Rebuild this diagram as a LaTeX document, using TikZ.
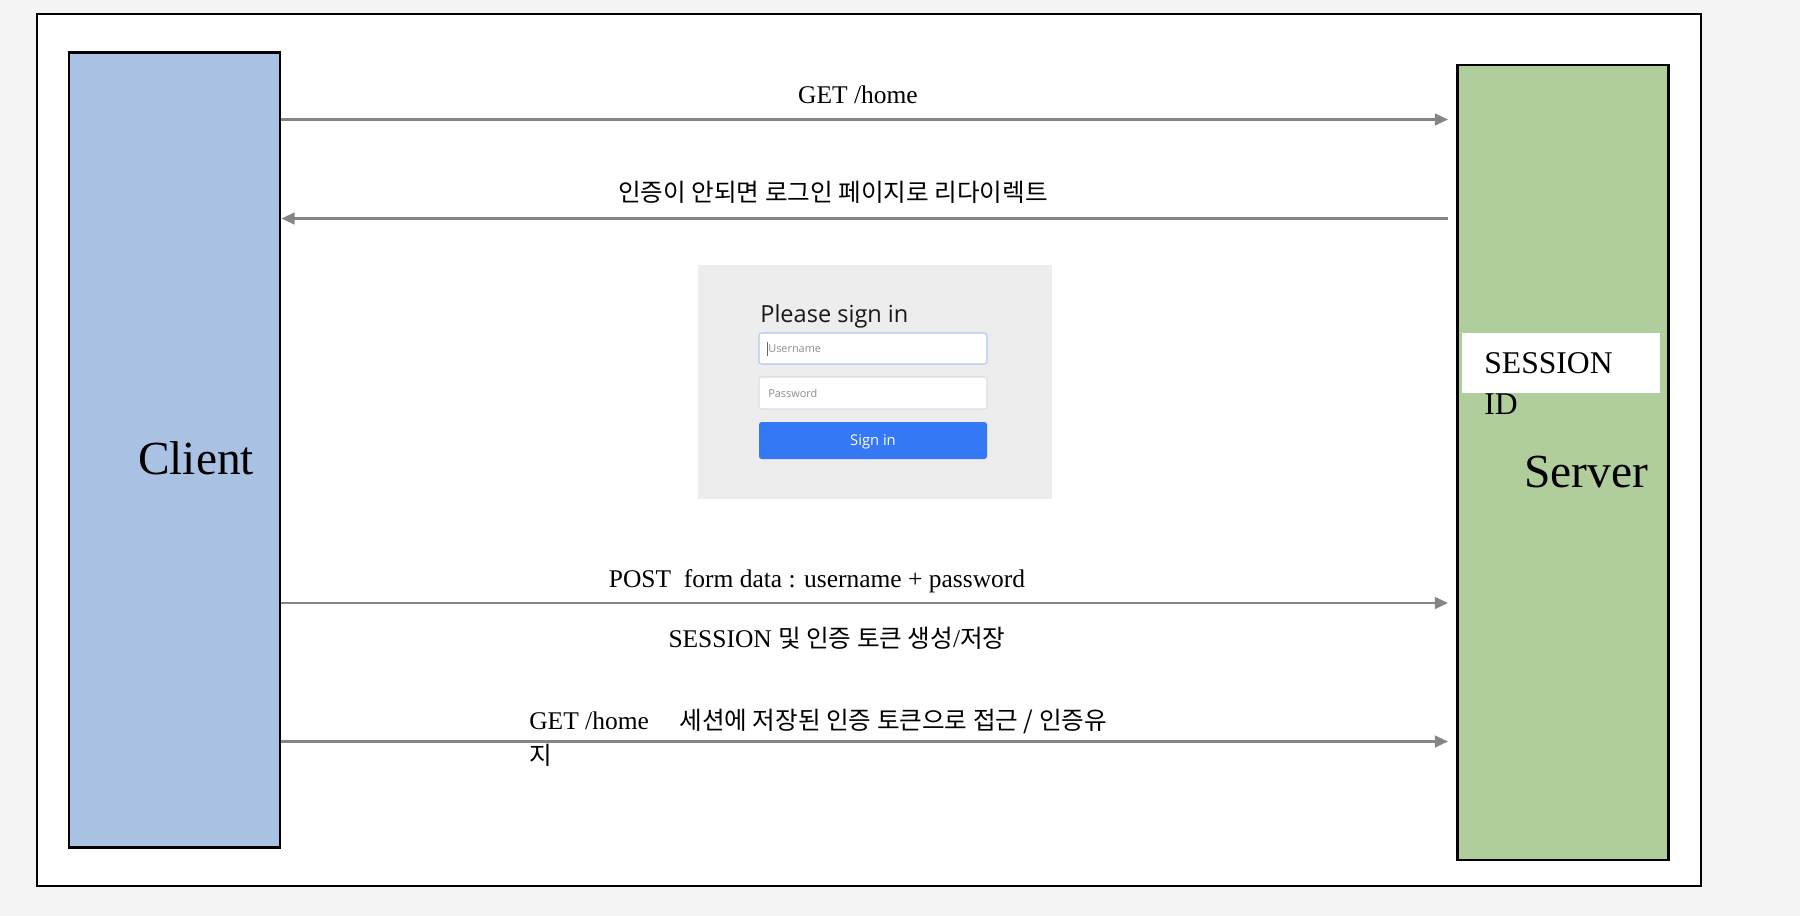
\documentclass[tikz,border=0pt]{standalone}
\usepackage{fontspec}
\setmainfont{Liberation Serif}
\newfontfamily\kofont{Noto Sans CJK KR}
\newfontfamily\uifont{Open Sans}
\usetikzlibrary{positioning,arrows.meta}
\definecolor{pagegray}{HTML}{F4F4F4}
\definecolor{clientblue}{HTML}{A9C2E3}
\definecolor{servergreen}{HTML}{B0CE9B}
\definecolor{msggray}{HTML}{858585}
\definecolor{formgray}{HTML}{EDEDED}
\definecolor{btnblue}{HTML}{3578F6}
\definecolor{fieldblue}{HTML}{A9C8F2}
\definecolor{fieldgray}{HTML}{DCDCDC}
\newcommand{\ko}[1]{{\kofont\fontsize{14}{16}\selectfont #1}}
\tikzset{
x=0.02cm, y=-0.02cm, % one unit = one pixel of the reference
party/.style={draw=black, line width=1.6pt, minimum width=4.22cm, minimum height=15.9cm, inner sep=0pt},
msg/.style={draw=msggray, line width=1.6pt, -{Triangle[length=7.5pt,width=6.5pt]}}, % the request/response arrows
msgtext/.style={font=\fontsize{14.5}{17}\selectfont, inner sep=0pt},
field/.style={rounded corners=1.5pt, line width=0.6pt, fill=white},
}
\begin{document}
\begin{tikzpicture}
  % page and frame
  \fill[pagegray] (0,0) rectangle (1800,916);
  \draw[fill=white, line width=1.3pt] (37,14) rectangle (1701,886);

  % client and server
  \node[party, fill=clientblue] (cl) at (174.5,450) {};
  \node[party, fill=servergreen] (sv) at (1563,462.5) {};
  \node[font=\fontsize{27}{30}\selectfont, inner sep=0pt] (cllabel) at (196,458) {Client};
  \node[font=\fontsize{27}{30}\selectfont, inner sep=0pt] (svlabel) at (1586,472) {Server};
  \node[fill=white, minimum width=3.96cm, minimum height=1.2cm, inner sep=0pt] (sid) at (1561,363) {};
  \node[font=\fontsize{18}{23.3}\selectfont, align=left, inner sep=0pt, anchor=north west] (sidtext) at (1484,352) {SESSION\\ID};

  % message levels
  \coordinate (m1) at (0,119.5);
  \coordinate (m2) at (0,218.5);
  \coordinate (m3) at (0,603);
  \coordinate (m4) at (0,741.5);

  \draw[msg, shorten >=0.16cm] (cl.east |- m1) -- (sv.west |- m1);
  \draw[msg, shorten <=0.16cm] (sv.west |- m2) -- (cl.east |- m2);
  \draw[msg, shorten >=0.16cm] (cl.east |- m3) -- (sv.west |- m3);
  \draw[msg, shorten >=0.16cm] (cl.east |- m4) -- (sv.west |- m4);

  \node[msgtext, anchor=base] (t1) at (858,103) {GET /home};
  \node[msgtext] (t2) at (833,192) {\ko{인증이 안되면 로그인 페이지로 리다이렉트}};
  \node[msgtext, anchor=base] (t3) at (817,587) {POST\ \ form data : username + password};
  \node[msgtext, anchor=base] (t4) at (837,647.5) {SESSION \ko{및 인증 토큰 생성}/\ko{저장}};
  \node[msgtext, align=left, anchor=north west] (t5) at (529,709) {GET /home\hspace{1.2em}\ko{세션에 저장된 인증 토큰으로 접근 / 인증유}\\[3pt]\ko{지}};

  % login form screenshot
  \fill[formgray] (698,265) rectangle (1052,499);
  \node[font=\uifont\fontsize{13.4}{16}\selectfont, text=black!90, anchor=base west, inner sep=0pt] (title) at (760,322.5) {Please sign in};
  \draw[field, draw=fieldblue] (759,333) rectangle (987,364);
  \node[font=\uifont\fontsize{6.2}{8}\selectfont, text=black!45, anchor=west, inner sep=0pt] (user) at (768,348.5) {Username};
  \draw[black!60, line width=0.4pt] (767.5,342) -- (767.5,356);
  \draw[field, draw=fieldgray] (759,377) rectangle (987,409);
  \node[font=\uifont\fontsize{6.2}{8}\selectfont, text=black!45, anchor=west, inner sep=0pt] (pass) at (768,393) {Password};
  \fill[btnblue, rounded corners=1.5pt] (759,422) rectangle (987,459);
  \node[font=\uifont\fontsize{8.4}{10}\selectfont, text=white, inner sep=0pt] (signin) at (873,442) {Sign in};
\end{tikzpicture}
\end{document}
